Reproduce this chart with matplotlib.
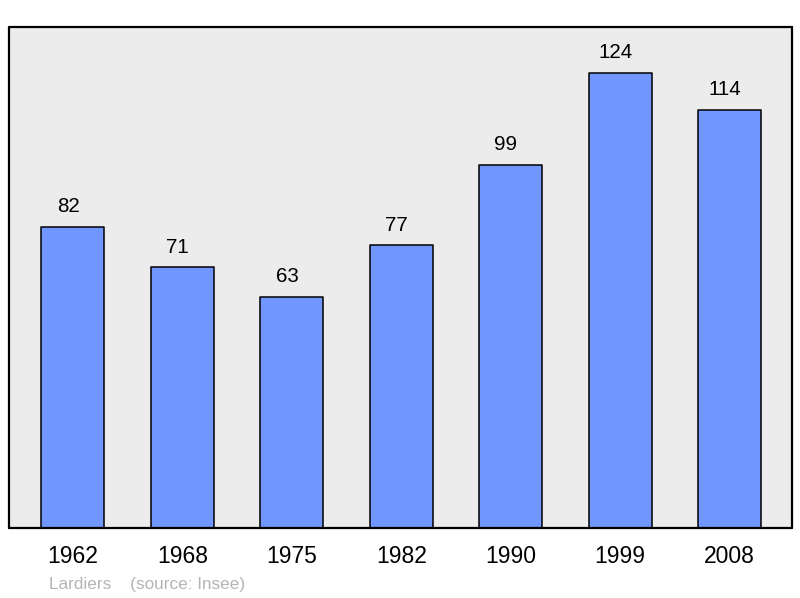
import matplotlib.pyplot as plt

years = ['1962', '1968', '1975', '1982', '1990', '1999', '2008']
population = [82, 71, 63, 77, 99, 124, 114]

plt.rcParams['font.family'] = ['Liberation Sans', 'DejaVu Sans']

fig = plt.figure(figsize=(8, 5.98), dpi=100)
ax = fig.add_axes([0.01125, 0.117, 0.979, 0.838])
ax.set_facecolor('#ececec')

x = range(len(years))
bars = ax.bar(x, population, width=0.575, color='#7096ff', edgecolor='black',
              linewidth=1.1, joinstyle='round')

# value labels sit a little left of the bar centre, as in the original
for xi, val in zip(x, population):
    ax.annotate(str(val), (xi, val), xytext=(-3.5, 14.5), textcoords='offset points',
                ha='center', va='center', fontsize=14.8)

ax.set_xlim(-0.584, 6.571)
ax.set_ylim(0, 136.5)
ax.set_xticks(list(x))
ax.set_xticklabels(years, fontsize=16.5)
ax.tick_params(axis='x', length=0, pad=12)
ax.set_yticks([])
for s in ax.spines.values():
    s.set_linewidth(1.6)
    s.set_joinstyle('round')
    s.set_capstyle('round')

fig.text(49 / 800, 1 - 584 / 598, 'Lardiers    (source: Insee)', fontsize=12.3,
         color='#b4b4b4', ha='left', va='center')

fig.savefig('out.png', dpi=100)
